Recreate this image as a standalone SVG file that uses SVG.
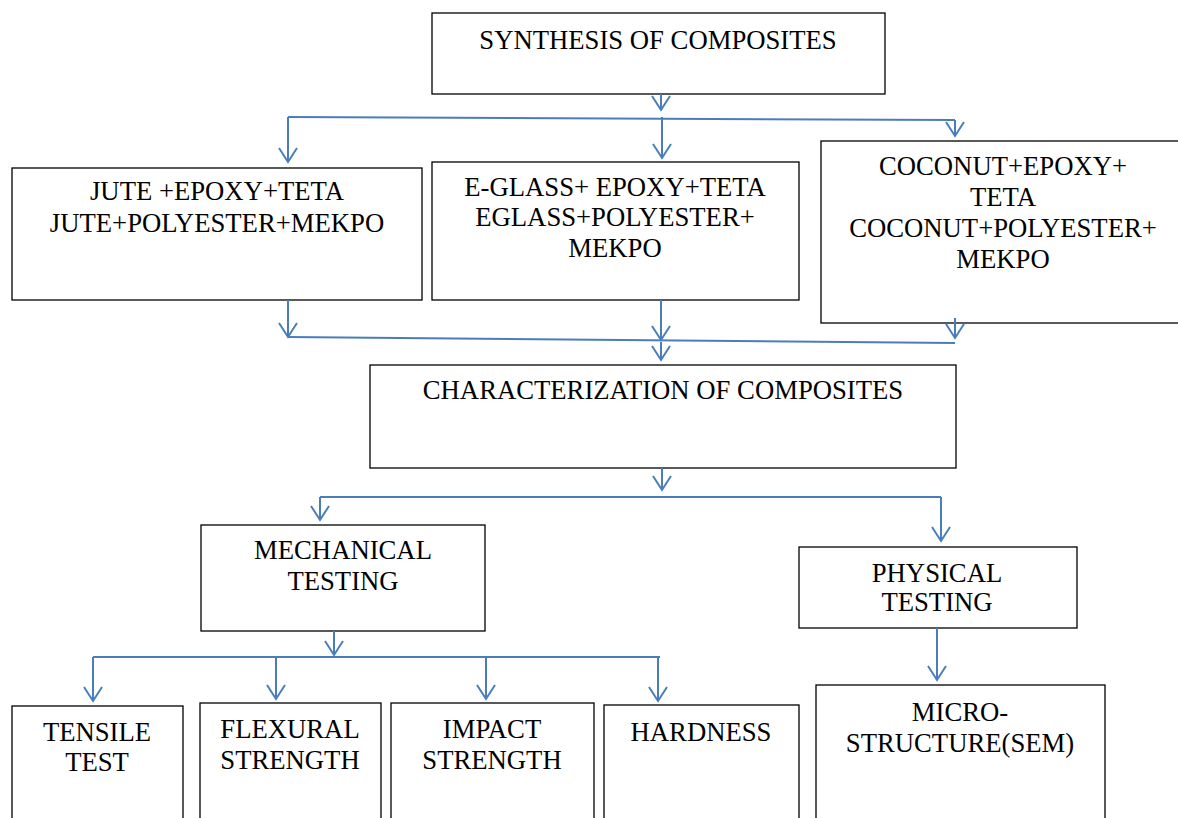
<svg xmlns="http://www.w3.org/2000/svg" width="1178" height="818" viewBox="0 0 1178 818">
<defs>
<marker id="ah" markerUnits="userSpaceOnUse" markerWidth="24" markerHeight="24" refX="0" refY="0" viewBox="-12 -20 24 24" orient="auto-start-reverse" overflow="visible">
<path d="M-14,-9 L0,0 L-14,9" fill="none" stroke="#4a7ebb" stroke-width="2"/>
</marker>
</defs>
<style>
.box rect{fill:#fff;stroke:#000;stroke-width:1.3}
text{font-family:"Liberation Serif","Times New Roman",serif;font-size:26.7px;fill:#000;text-anchor:middle}
.c path{fill:none;stroke:#4a7ebb;stroke-width:2}
.c .a{marker-end:url(#ah)}
</style>
<rect width="1178" height="818" fill="#fff"/>
<g id="synthesis" class="box"><rect x="432" y="13" width="453" height="81"/><text x="658" y="49">SYNTHESIS OF COMPOSITES</text></g>
<g id="jute" class="box"><rect x="12" y="168" width="410" height="132"/><text x="217" y="200">JUTE +EPOXY+TETA</text><text x="217" y="232">JUTE+POLYESTER+MEKPO</text></g>
<g id="eglass" class="box"><rect x="432" y="162" width="367" height="138"/><text x="615" y="196">E-GLASS+ EPOXY+TETA</text><text x="615" y="226">EGLASS+POLYESTER+</text><text x="615" y="257">MEKPO</text></g>
<g id="coconut" class="box"><rect x="821" y="141" width="362" height="182"/><text x="1003" y="175">COCONUT+EPOXY+</text><text x="1003" y="206">TETA</text><text x="1003" y="237">COCONUT+POLYESTER+</text><text x="1003" y="268">MEKPO</text></g>
<g id="characterization" class="box"><rect x="370" y="365" width="586" height="103"/><text x="663" y="399">CHARACTERIZATION OF COMPOSITES</text></g>
<g id="mechanical" class="box"><rect x="201" y="525" width="284" height="106"/><text x="343" y="559">MECHANICAL</text><text x="343" y="590">TESTING</text></g>
<g id="physical" class="box"><rect x="799" y="547" width="278" height="81"/><text x="937" y="582">PHYSICAL</text><text x="937" y="611">TESTING</text></g>
<g id="tensile" class="box"><rect x="12" y="706" width="171" height="120"/><text x="97" y="741">TENSILE</text><text x="97" y="771">TEST</text></g>
<g id="flexural" class="box"><rect x="200" y="703" width="181" height="123"/><text x="290" y="738">FLEXURAL</text><text x="290" y="769">STRENGTH</text></g>
<g id="impact" class="box"><rect x="391" y="703" width="203" height="123"/><text x="492" y="738">IMPACT</text><text x="492" y="769">STRENGTH</text></g>
<g id="hardness" class="box"><rect x="604" y="705" width="195" height="121"/><text x="701" y="741">HARDNESS</text></g>
<g id="micro" class="box"><rect x="816" y="685" width="289" height="141"/><text x="960" y="721">MICRO-</text><text x="960" y="752">STRUCTURE(SEM)</text></g>
<g id="connectors" class="c">
<path class="a" d="M661,94 L661,110"/>
<path d="M288,117 L955,120"/>
<path class="a" d="M288,117 L288,162"/>
<path class="a" d="M662,117 L662,158"/>
<path class="a" d="M955,120 L955,136"/>
<path class="a" d="M288,300 L288,337"/>
<path class="a" d="M661,300 L661,340"/>
<path class="a" d="M955,318 L955,338"/>
<path d="M288,337 L955,343"/>
<path class="a" d="M661,342 L661,360"/>
<path class="a" d="M662,468 L662,490"/>
<path d="M320,497 L941,497"/>
<path class="a" d="M320,497 L320,520"/>
<path class="a" d="M941,497 L941,541"/>
<path class="a" d="M334,631 L334,655"/>
<path d="M93,657 L660,657"/>
<path class="a" d="M93,657 L93,701"/>
<path class="a" d="M276,657 L276,699"/>
<path class="a" d="M486,657 L486,699"/>
<path class="a" d="M658,657 L658,701"/>
<path class="a" d="M937,628 L937,680"/>
</g>
</svg>
